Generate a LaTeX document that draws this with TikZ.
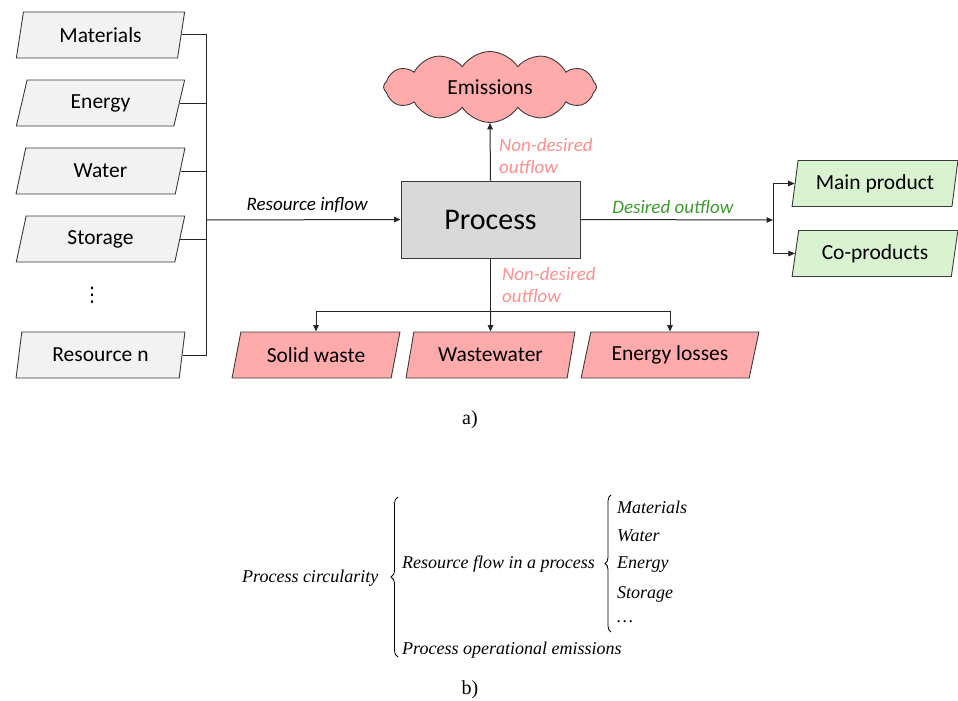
\documentclass[tikz,border=0pt]{standalone}
\usepackage{fontspec}
\setmainfont{Carlito}
\newfontfamily\serifb{Liberation Serif}
\newfontfamily\symfont{DejaVu Sans}
\usetikzlibrary{shapes.geometric,shapes.symbols,arrows.meta,decorations.pathreplacing}
\definecolor{boxgray}{HTML}{F2F2F2}
\definecolor{procgray}{HTML}{D9D9D9}
\definecolor{pinkfill}{HTML}{FFABAB}
\definecolor{greenfill}{HTML}{D9F2D0}
\definecolor{pinktext}{HTML}{FF8F8F}
\definecolor{greentext}{HTML}{3B9B2B}
\definecolor{edgecol}{HTML}{3A3A3A}
\begin{document}
\begin{tikzpicture}[x=1pt,y=-1pt,
  parabase/.style={trapezium, trapezium stretches=true, draw=edgecol, line width=0.9pt,
     font=\fontsize{21.5}{24}\selectfont, inner sep=0pt, minimum height=46pt},
  inbox/.style={parabase, fill=boxgray, trapezium left angle=76, trapezium right angle=104, minimum width=169pt},
  wastebox/.style={parabase, fill=pinkfill, trapezium left angle=69, trapezium right angle=111},
  prodbox/.style={parabase, fill=greenfill, trapezium left angle=76, trapezium right angle=104, minimum width=166pt},
  conn/.style={draw=black!85, line width=1pt},
  arr/.style={conn, -{Triangle[length=6.5pt,width=5.5pt]}},
  italab/.style={font=\fontsize{19}{22}\selectfont\itshape, inner sep=0pt},
  btext/.style={font=\serifb\fontsize{18}{20}\selectfont\itshape, inner sep=0pt, anchor=west},
  caplab/.style={font=\serifb\fontsize{20}{22}\selectfont, inner sep=0pt},
  bracepath/.style={decorate, decoration={brace, amplitude=#1}, line width=0.8pt}
]
\useasboundingbox (0,0) rectangle (958,701);

% inputs
\node[inbox] (mat) at (100.5,35) {Materials};
\node[inbox] (ene) at (100.5,103) {Energy};
\node[inbox] (wat) at (100.5,171) {Water};
\node[inbox] (sto) at (100.5,239) {Storage};
\node[inner sep=0pt, font=\symfont\fontsize{20}{22}\selectfont] (dots) at (92,295) {⋮};
\node[inbox] (res) at (100.5,355) {Resource n};
\coordinate (bus) at (206,220);

\draw[conn] (mat.east) -| (bus);
\draw[conn] (res.east) -| (bus);
\draw[conn] (ene.east) -- (ene.east -| bus);
\draw[conn] (wat.east) -- (wat.east -| bus);
\draw[conn] (sto.east) -- (sto.east -| bus);

% process
\node[draw=edgecol, line width=0.9pt, fill=procgray, minimum width=179pt, minimum height=77pt,
      font=\fontsize{30}{32}\selectfont] (proc) at (490.5,219.5) {Process};
\draw[arr] (bus) -- (proc.west) node[pos=0.52, above=7pt, italab] (inlab) {Resource inflow};

% emissions
\node[cloud, cloud puffs=12, cloud puff arc=115, aspect=3, draw=edgecol, line width=0.9pt, fill=pinkfill,
      minimum width=213pt, minimum height=71pt, inner sep=0pt, font=\fontsize{21.5}{24}\selectfont] (emi) at (490,87) {Emissions};
\draw[arr] (proc.north) -- (emi.south);
\node[italab, text=pinktext, anchor=north west, align=left] (nd1) at (499,138) {Non-desired\\outflow};

% desired outflow
\coordinate (split) at (773,220);
\draw[arr] (proc.east) -- (split) node[pos=0.48, above=6pt, italab, text=greentext] (dlab) {Desired outflow};
\node[prodbox] (main) at (875,183.5) {Main product};
\node[prodbox] (cop) at (875,253.5) {Co-products};
\draw[arr] (split) |- (main.west);
\draw[arr] (split) |- (cop.west);

% non-desired down
\node[wastebox, minimum width=168pt] (sol) at (316,355) {Solid waste};
\node[wastebox, minimum width=169pt] (ww) at (490.5,355) {Wastewater};
\node[wastebox, minimum width=178pt] (el) at (670,355) {Energy losses};
\coordinate (split2) at (490.5,311);
\draw[conn] (proc.south) -- (split2);
\draw[conn] (sol.north |- split2) -- (el.north |- split2);
\draw[arr] (sol.north |- split2) -- (sol.north);
\draw[arr] (split2) -- (ww.north);
\draw[arr] (el.north |- split2) -- (el.north);
\node[italab, text=pinktext, anchor=north west, align=left] (nd2) at (502,267) {Non-desired\\outflow};

\node[caplab] (capa) at (470,420) {a)};

% part b
\node[btext] (pc) at (242,578) {Process circularity};
\coordinate (br1a) at (398,657);
\coordinate (br1b) at (398,497);
\draw[bracepath=7pt] (br1a) -- (br1b);
\node[btext] (rf) at (402,564) {Resource flow in a process};
\coordinate (br2a) at (611,632);
\coordinate (br2b) at (611,495);
\draw[bracepath=6pt] (br2a) -- (br2b);
\node[btext] (b1) at (617,507) {Materials};
\node[btext] (b2) at (617,536) {Water};
\node[btext] (b3) at (617,565) {Energy};
\node[btext] (b4) at (617,594) {Storage};
\node[btext] (b5) at (617,622) {\ldots};
\node[btext] (poe) at (402,650) {Process operational emissions};

\node[caplab] (capb) at (470,690) {b)};
\end{tikzpicture}
\end{document}
